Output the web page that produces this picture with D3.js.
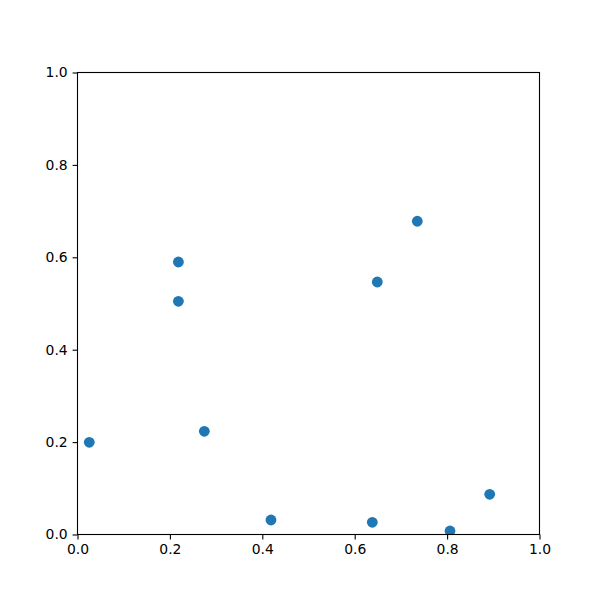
<!DOCTYPE html>
<html>
<head>
<meta charset="utf-8">
<script src="https://cdn.jsdelivr.net/npm/d3@7"></script>
<style>
  body { margin: 0; background: #fff; }
  svg { display: block; }
</style>
</head>
<body>
<div id="chart"></div>
<script>
const xValues = [0.0255, 0.2184, 0.2184, 0.2745, 0.4188, 0.6489, 0.6381, 0.7355, 0.8063, 0.8922]
const yValues = [0.1996, 0.5898, 0.5048, 0.2234, 0.0314, 0.5465, 0.0264, 0.6780, 0.0076, 0.0870]
const tickValues = [0, 0.2, 0.4, 0.6, 0.8, 1.0]

const width = 600,
      height = 600,
      margin = {top: 72.5, right: 60.5, bottom: 65.5, left: 77.5}

const data = xValues.map((x, i) => ({x: x, y: yValues[i]}))

const x = d3.scaleLinear()
    .domain([0, 1])
    .range([margin.left, width - margin.right])

const y = d3.scaleLinear()
    .domain([0, 1])
    .range([height - margin.bottom, margin.top])

const svg = d3.select('#chart')
  .append('svg')
  .attr('width', width)
  .attr('height', height)
  .attr('viewBox', [0, 0, width, height])

const fmt = d3.format('.1f')

const xAxis = g => g
    .attr('transform', `translate(0,${height - margin.bottom})`)
    .call(d3.axisBottom(x).tickValues(tickValues).tickFormat(fmt).tickSize(4.9).tickPadding(4.9))
    .call(g => g.select('.domain').remove())

const yAxis = g => g
    .attr('transform', `translate(${margin.left},0)`)
    .call(d3.axisLeft(y).tickValues(tickValues).tickFormat(fmt).tickSize(4.9).tickPadding(4.9))
    .call(g => g.select('.domain').remove())

svg.append('defs').append('clipPath')
    .attr('id', 'clip')
  .append('rect')
    .attr('x', margin.left)
    .attr('y', margin.top)
    .attr('width', width - margin.left - margin.right)
    .attr('height', height - margin.top - margin.bottom)

svg.append('g')
    .attr('clip-path', 'url(#clip)')
  .selectAll('circle')
  .data(data)
  .join('circle')
    .attr('cx', d => x(d.x))
    .attr('cy', d => y(d.y))
    .attr('r', 5.4)
    .attr('fill', '#1f77b4')

svg.append('g').call(xAxis)
svg.append('g').call(yAxis)

svg.selectAll('.tick text')
    .attr('font-family', 'DejaVu Sans')
    .attr('font-size', 13.9)
    .attr('fill', '#000')
svg.selectAll('.tick line')
    .attr('stroke', '#000')
    .attr('stroke-width', 1.1)

svg.append('rect')
    .attr('x', margin.left)
    .attr('y', margin.top)
    .attr('width', width - margin.left - margin.right)
    .attr('height', height - margin.top - margin.bottom)
    .attr('fill', 'none')
    .attr('stroke', '#000')
    .attr('stroke-width', 1.1)
</script>
</body>
</html>
